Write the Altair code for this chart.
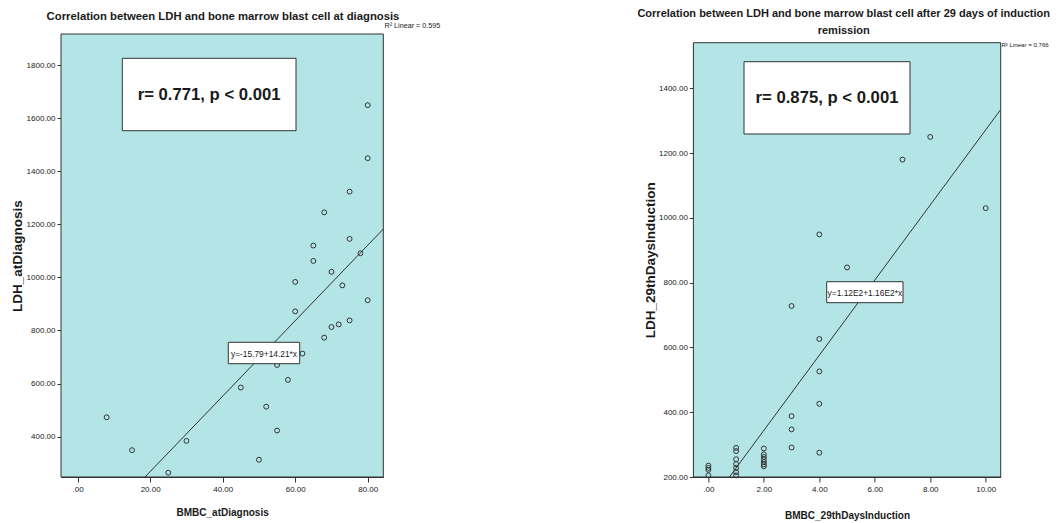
import altair as alt
import pandas as pd

# ---------------- data ----------------
bmbc_dx = [8, 15, 25, 30, 45, 50, 52, 55, 55, 58, 60, 60, 62, 65, 65, 68, 68, 70, 70, 72, 73, 75, 75, 75, 78, 80, 80, 80]
ldh_dx = [473, 349, 264, 384, 585, 313, 513, 423, 670, 614, 872, 983, 713, 1062, 1120, 773, 1245, 813, 1021, 823, 970, 838, 1145, 1323, 1091, 914, 1449, 1649]

bmbc_29 = [0, 0, 0, 0, 1, 1, 1, 1, 1, 1, 1, 2, 2, 2, 2, 2, 2, 2, 3, 3, 3, 3, 4, 4, 4, 4, 4, 5, 7, 8, 10]
ldh_29 = [235, 228, 222, 205, 290, 280, 255, 240, 228, 215, 205, 288, 270, 262, 254, 246, 239, 233,
          388, 347, 291, 728, 949, 626, 526, 426, 275, 847, 1180, 1250, 1030]

fit_dx = [-15.79, 14.21]   # intercept, slope
fit_29 = [112.0, 116.0]

x_ticks_dx = [0, 20, 40, 60, 80]
y_ticks_dx = [400, 600, 800, 1000, 1200, 1400, 1600, 1800]
x_ticks_29 = [0, 2, 4, 6, 8, 10]
y_ticks_29 = [200, 400, 600, 800, 1000, 1200, 1400]

titles = ["Correlation between LDH and bone marrow blast cell at diagnosis",
          ["Correlation between LDH and bone marrow blast cell after 29 days of induction", "remission"]]
stats = ["r= 0.771, p < 0.001", "r= 0.875, p < 0.001"]
eqs = ["y=-15.79+14.21*x", "y=1.12E2+1.16E2*x"]
r2s = ["R\u00b2 Linear = 0.595", "R\u00b2 Linear = 0.766"]

FONT = "Liberation Sans, Arial, sans-serif"
CYAN = "#b3e5e6"
DARK = "#333333"
INK = "#1a1a1a"


def panel(xs, ys, xname, yname, xdom, ydom, yrange, xticks, yticks, fit, width, height,
          title, title_pos, title_size, stat, stat_box, eq, eq_box, r2, r2_pos, r2_size,
          ytitle_x, xtitle_y):
    df = pd.DataFrame({xname: xs, yname: ys})
    xs_ = alt.Scale(domain=xdom, nice=False, zero=False)
    ys_ = alt.Scale(domain=ydom, range=yrange, nice=False, zero=False)
    xaxis = alt.Axis(values=xticks, grid=False, tickSize=5, labelPadding=3,
                     labelExpr="datum.value == 0 ? '.00' : format(datum.value, '.2f')",
                     labelFont=FONT, labelFontSize=8, labelColor=INK,
                     domainColor=DARK, tickColor=DARK, title=xname,
                     titleFont=FONT, titleFontSize=10, titleFontWeight="bold", titleColor=INK,
                     titleY=xtitle_y, titleBaseline="middle")
    yaxis = alt.Axis(values=yticks, grid=False, tickSize=4, labelPadding=2, format=".2f",
                     labelFont=FONT, labelFontSize=8, labelColor=INK,
                     domainColor=DARK, tickColor=DARK, title=yname,
                     titleFont=FONT, titleFontSize=13.5, titleFontWeight="bold", titleColor=INK,
                     titleX=ytitle_x, titleY=(yrange[0] + yrange[1]) / 2, titleAngle=270,
                     titleAlign="center", titleBaseline="middle")

    bg = alt.Chart(pd.DataFrame({"x1": [xdom[0]], "x2": [xdom[1]], "y1": [ydom[0]], "y2": [ydom[1]]})).mark_rect(
        fill=CYAN, stroke=DARK, strokeWidth=1).encode(
        x=alt.X("x1:Q", scale=xs_, axis=xaxis),
        x2="x2:Q",
        y=alt.Y("y1:Q", scale=ys_, axis=yaxis),
        y2="y2:Q")

    pts = alt.Chart(df).mark_point(shape="circle", filled=False, size=24, stroke=DARK,
                                   strokeWidth=1, opacity=1).encode(
        x=alt.X(f"{xname}:Q", scale=xs_, axis=xaxis),
        y=alt.Y(f"{yname}:Q", scale=ys_, axis=yaxis))

    lx = [xdom[0], xdom[1]]
    ldf = pd.DataFrame({"lx": lx, "ly": [fit[0] + fit[1] * v for v in lx]})
    line = alt.Chart(ldf).mark_line(clip=True, color=DARK, strokeWidth=1).encode(
        x=alt.X("lx:Q", scale=xs_, axis=xaxis),
        y=alt.Y("ly:Q", scale=ys_, axis=yaxis))

    one = pd.DataFrame({"a": [0]})
    stat_rect = alt.Chart(one).mark_rect(fill="white", stroke=DARK, strokeWidth=1).encode(
        x=alt.value(stat_box[0]), x2=alt.value(stat_box[2]),
        y=alt.value(stat_box[1]), y2=alt.value(stat_box[3]))
    stat_txt = alt.Chart(one).mark_text(text=stat, font=FONT, fontSize=16.7, fontWeight="bold",
                                        color=INK, align="center", baseline="middle").encode(
        x=alt.value((stat_box[0] + stat_box[2]) / 2), y=alt.value((stat_box[1] + stat_box[3]) / 2))
    eq_rect = alt.Chart(one).mark_rect(fill="white", stroke=DARK, strokeWidth=1).encode(
        x=alt.value(eq_box[0]), x2=alt.value(eq_box[2]),
        y=alt.value(eq_box[1]), y2=alt.value(eq_box[3]))
    eq_txt = alt.Chart(one).mark_text(text=eq, font=FONT, fontSize=8.4, color=INK,
                                      align="center", baseline="middle").encode(
        x=alt.value((eq_box[0] + eq_box[2]) / 2), y=alt.value((eq_box[1] + eq_box[3]) / 2 + 0.5))
    r2_txt = alt.Chart(one).mark_text(text=r2, font=FONT, fontSize=r2_size, color=INK,
                                      align="left", baseline="middle").encode(
        x=alt.value(r2_pos[0]), y=alt.value(r2_pos[1]))
    ttl = alt.Chart(one).mark_text(text=title, font=FONT, fontSize=title_size, fontWeight="bold",
                                   color=INK, align="center", baseline="middle", lineHeight=17).encode(
        x=alt.value(title_pos[0]), y=alt.value(title_pos[1]))

    return alt.layer(bg, line, pts, eq_rect, eq_txt, stat_rect, stat_txt, r2_txt, ttl).properties(
        width=width, height=height)


left = panel(bmbc_dx, ldh_dx, "BMBC_atDiagnosis", "LDH_atDiagnosis",
             [-4.6, 84.3], [248, 1917], [443, 0], x_ticks_dx, y_ticks_dx, fit_dx, 322.3, 443,
             titles[0], (162, -17), 11.3, stats[0], (61.3, 24.3, 235, 96.7),
             eqs[0], (167.3, 308.3, 238.7, 329.7), r2s[0], (323.5, -8.3), 7.2, -44, 35)

right = panel(bmbc_29, ldh_29, "BMBC_29thDaysInduction", "LDH_29thDaysInduction",
              [-0.54, 10.54], [200, 1541], [443, 8.7], x_ticks_29, y_ticks_29, fit_29, 307.3, 443,
              titles[1], (150.3, -20.5), 11, stats[1], (50.6, 27.7, 216.6, 100),
              eqs[1], (133.3, 247.7, 209.6, 268.7), r2s[1], (308.0, 11), 6.1, -42.7, 38)

chart = alt.hconcat(left, right, spacing=309.4, bounds="flush").properties(
    autosize=alt.AutoSizeParams(type="none"),
    padding={"left": 53, "top": 26, "right": 991, "bottom": 481}
).configure_view(stroke=None, fill=None)

chart.save("out.html", embed_options={"renderer": "svg", "actions": False})
